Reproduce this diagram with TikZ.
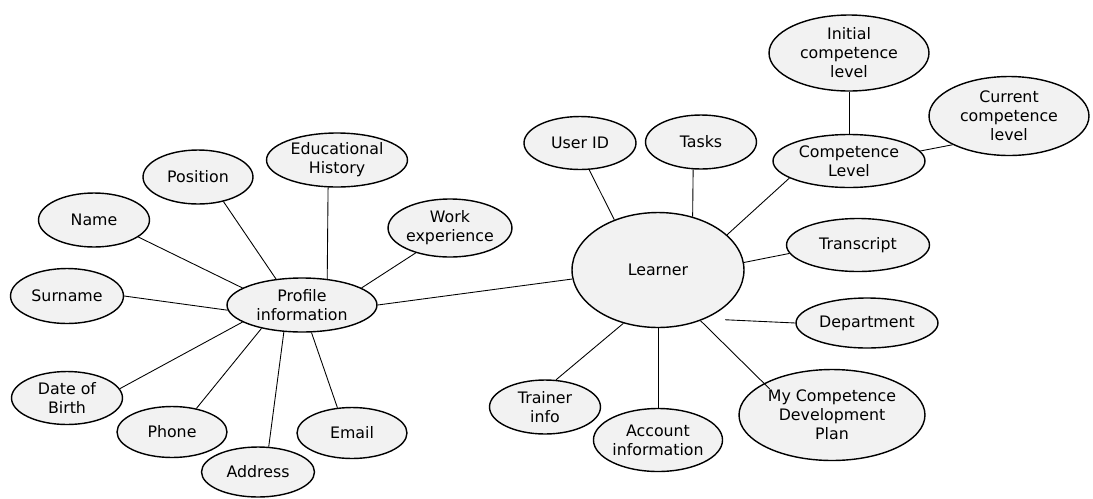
\documentclass[tikz,border=0pt]{standalone}
\usepackage{fontspec}
\setmainfont{DejaVu Sans}
\usetikzlibrary{shapes.geometric}
\definecolor{bubble}{HTML}{F2F2F2}
\tikzset{wh/.style 2 args={minimum width=#1cm, minimum height=#2cm}}
\begin{document}
\begin{tikzpicture}[x=0.02cm, y=-0.02cm]
		\useasboundingbox (0,0) rectangle (1093,498);
		\begin{scope}[every node/.style={ellipse,draw,line width=0.8pt,fill=bubble,
				inner sep=0pt, align=center, font=\fontsize{9}{10.8}\selectfont}]
			% profile side
			\node[wh={3.0}{1.08}] (prof) at (302,305) {Profile\\information};
			\node[wh={2.22}{1.08}] (name) at (94,220) {Name};
			\node[wh={2.26}{1.1}] (surname) at (67,296) {Surname};
			\node[wh={2.22}{1.06}] (dob) at (67,398) {Date of\\Birth};
			\node[wh={2.2}{1.02}] (phone) at (172,432) {Phone};
			\node[wh={2.26}{1.0}] (address) at (258,472) {Address};
			\node[wh={2.2}{1.02}] (email) at (352,433) {Email};
			\node[wh={2.2}{1.08}] (position) at (198,177) {Position};
			\node[wh={2.82}{1.08}] (eduhist) at (337,160) {Educational\\History};
			\node[wh={2.46}{1.16}] (workexp) at (450,228) {Work\\experience};
			% learner side
			\node[wh={3.44}{2.30}] (learner) at (658,270) {Learner};
			\node[wh={2.24}{1.06}] (userid) at (580,143) {User ID};
			\node[wh={2.22}{1.08}] (tasks) at (701,142) {Tasks};
			\node[wh={3.04}{1.06}] (complevel) at (849,161) {Competence\\Level};
			\node[wh={3.2}{1.52}] (initial) at (849,53) {Initial\\competence\\level};
			\node[wh={3.2}{1.58}] (current) at (1009,116) {Current\\competence\\level};
			\node[wh={2.86}{1.06}] (transcript) at (858,245) {Transcript};
			\node[wh={2.84}{1.0}] (dept) at (867,323) {Department};
			\node[wh={2.22}{1.08}] (trainer) at (545,407) {Trainer\\info};
			\node[wh={2.56}{1.26}] (account) at (658,440) {Account\\information};
			\node[wh={3.72}{1.82}] (mcdp) at (832,415) {My Competence\\Development\\Plan};
		\end{scope}
		
		\begin{scope}[line width=0.5pt]
			\path (prof.164) edge (name.-21);
			\path (prof.135) edge (position.-44);
			\path (prof.46) edge (eduhist.-108);
			\path (prof.16) edge (workexp.-144);
			\path (prof.184) edge (surname.east);
			\path (prof.196) edge (dob.10);
			\path (prof.210) edge (phone.44);
			\path (prof.236) edge (address.67);
			\path (prof.-71) edge (email.120);
			\path (prof.east) edge (learner.186);
			
			\path (learner.131) edge (userid.-71);
			\path (learner.57) edge (tasks.-106);
			\path (learner.27) edge (complevel.196);
			\path (learner.5) edge (transcript.187);
			\path (learner.-46) edge[shorten <=0.4cm] (dept.west);
			\path (learner.-50) edge[shorten >=-0.16cm] (mcdp.155);
			\path (learner.south) edge (account.north);
			\path (learner.-123) edge (trainer.68);
			\path (complevel.north) edge (initial.south);
			\path (complevel.8) edge (current.207);
		\end{scope}
		\end{tikzpicture}
\end{document}
